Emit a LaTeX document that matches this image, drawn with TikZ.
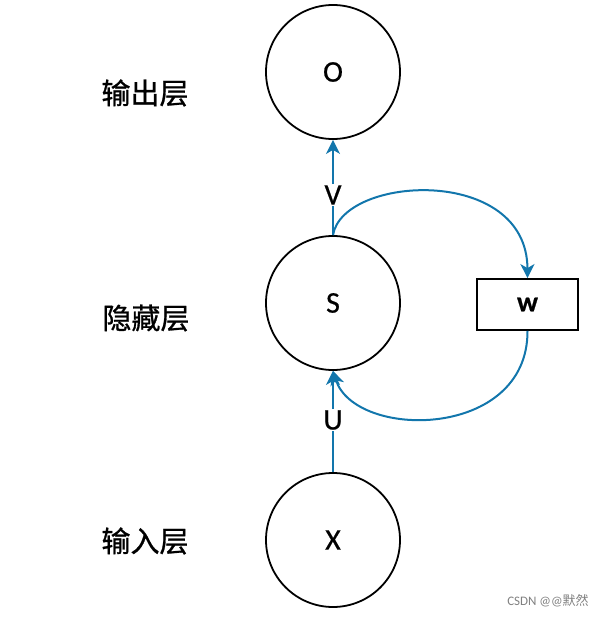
\documentclass[tikz,border=0pt]{standalone}
\usepackage{fontspec}
\setmainfont{Carlito}[FakeBold=0.6]
\newfontfamily\cjk[FakeBold=0.9]{Noto Sans CJK SC}
\newfontfamily\cjkplain{Noto Sans CJK SC}
\newfontfamily\wmfont{Carlito}
\usetikzlibrary{arrows.meta}
\definecolor{lineblue}{RGB}{18,118,172}
\begin{document}
\begin{tikzpicture}[x=1pt,y=-1pt,
  neuron/.style={circle,draw=black,line width=1.8pt,minimum size=134pt,inner sep=0pt,font=\fontsize{30}{30}\selectfont},
  wbox/.style={rectangle,draw=black,line width=1.8pt,minimum width=101pt,minimum height=51pt,inner sep=0pt,font=\bfseries\fontsize{28}{28}\selectfont},
  layer/.style={font=\cjk\fontsize{29}{29}\selectfont},
  wlabel/.style={font=\fontsize{30}{30}\selectfont,inner sep=1pt},
  conn/.style={draw=lineblue,line width=2pt},
  arr/.style={conn,-{Stealth[length=14pt,width=14pt,inset=4pt]}}]
\useasboundingbox (0,0) rectangle (605,618);
\node[neuron] (O) at (333,72) {O};
\node[neuron] (S) at (333,303) {S};
\node[neuron] (X) at (333,540) {X};
\node[wbox] (W) at (527.5,304.5) {w};
\node[layer] (lo) at (145,93) {输出层};
\node[layer] (ls) at (146,318) {隐藏层};
\node[layer] (li) at (145,541) {输入层};
\node[wlabel] (V) at (333,195) {V};
\node[wlabel] (U) at (333,420) {U};
\draw[conn] (S.north) -- (V.south);
\draw[arr] (V.north) -- (O.south);
\draw[conn] (X.north) -- (U.south);
\draw[arr] (U.north) -- (S.south);
\draw[arr] (S.north) .. controls (343,175) and (527,165) .. (W.north);
\draw[arr] (W.south) .. controls (528,440) and (355,440) .. (S.south);
\node[font=\wmfont\fontsize{13}{13}\selectfont,text=gray] (wm) at (548,601) {CSDN @@{\cjkplain 默然}};
\end{tikzpicture}
\end{document}
